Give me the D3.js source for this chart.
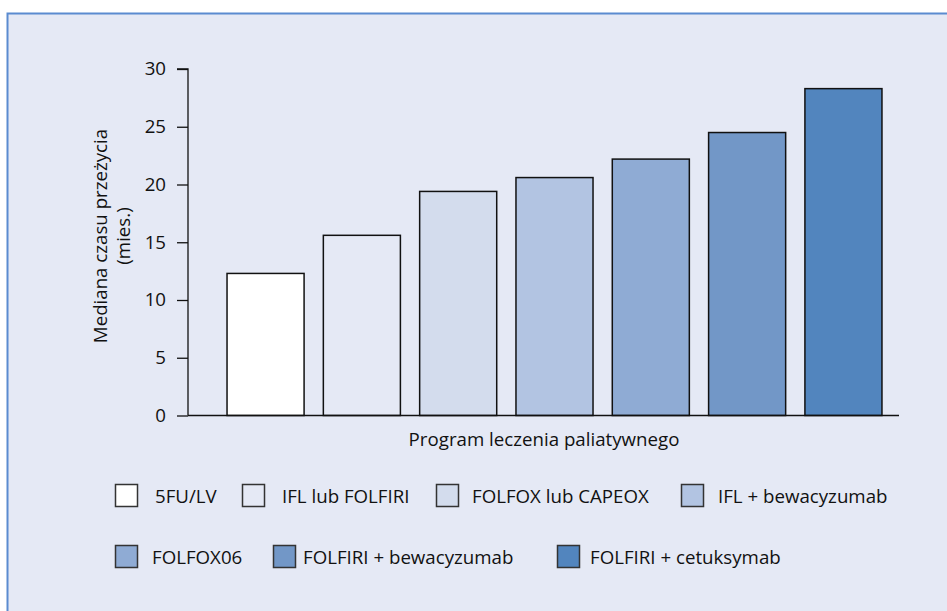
<!DOCTYPE html>
<html>
<head>
<meta charset="utf-8">
<script src="https://cdn.jsdelivr.net/npm/d3@7"></script>
<style>
  html, body { margin: 0; padding: 0; background: #ffffff; }
  svg { display: block; }
  text { font-family: "Open Sans", "Noto Sans", sans-serif; fill: #111; }
</style>
</head>
<body>
<svg id="chart" width="947" height="611"></svg>
<script>
// ---- data ----
const categories = ["5FU/LV", "IFL lub FOLFIRI", "FOLFOX lub CAPEOX", "IFL + bewacyzumab",
                    "FOLFOX06", "FOLFIRI + bewacyzumab", "FOLFIRI + cetuksymab"];
const values = [12.3, 15.6, 19.4, 20.6, 22.2, 24.5, 28.3];
const colors = ["#ffffff", "#e5e9f5", "#d3dced", "#b2c4e2", "#8fabd4", "#7297c7", "#5285be"];
const yTicks = [0, 5, 10, 15, 20, 25, 30];
const yTitle = ["Mediana czasu przeżycia", "(mies.)"];
const xTitle = "Program leczenia paliatywnego";

// ---- layout ----
const W = 947, H = 611;
const FS = 18.7;
const svg = d3.select("#chart");
const bg = "#e5e9f5";

svg.append("rect").attr("x", 7.5).attr("y", 13.5).attr("width", W + 20).attr("height", H + 20)
  .attr("fill", bg).attr("stroke", "#5b8bd0").attr("stroke-width", 2);

const axisX0 = 188, axisX1 = 899;
const y = d3.scaleLinear().domain([0, 30]).range([415.5, 69]);
const x = d3.scaleBand().domain(categories).range([217.4, 891.6]).paddingInner(0.2).paddingOuter(0.1);

// bars
svg.append("g").selectAll("rect").data(categories).join("rect")
  .attr("x", d => x(d)).attr("width", x.bandwidth())
  .attr("y", (d, i) => y(values[i])).attr("height", (d, i) => y(0) - y(values[i]))
  .attr("fill", (d, i) => colors[i]).attr("stroke", "#111").attr("stroke-width", 1.5);

// y axis
const yAxis = d3.axisLeft(y).tickValues(yTicks).tickSize(11).tickPadding(11);
const gy = svg.append("g").attr("transform", `translate(${axisX0},0)`).call(yAxis);
gy.select(".domain").attr("stroke", "#111").attr("stroke-width", 1.3).attr("d", `M-11,${y(30)}H0V${y(0)}`);
gy.selectAll(".tick line").attr("stroke", "#111").attr("stroke-width", 1.3);
gy.selectAll(".tick text").attr("font-size", FS).attr("font-family", '"Open Sans", sans-serif').attr("fill", "#111");

// x axis line
svg.append("line").attr("x1", axisX0).attr("x2", axisX1).attr("y1", y(0)).attr("y2", y(0))
  .attr("stroke", "#111").attr("stroke-width", 1.3);

// y title
const yt = svg.append("text").attr("transform", "translate(107,236) rotate(-90)")
  .attr("text-anchor", "middle").attr("font-size", FS);
yTitle.forEach((t, i) => yt.append("tspan").attr("x", 0).attr("dy", i === 0 ? 0 : 23).text(t));

// x title
svg.append("text").attr("x", 544).attr("y", 446).attr("text-anchor", "middle")
  .attr("font-size", FS).text(xTitle);

// legend
const legendRows = [[0, 1, 2, 3], [4, 5, 6]];
const legendTop = [484, 545];
const legendX = [[115, 242, 436, 681], [115, 273, 557]];
const legendTextGap = [[40, 40, 36, 37], [37, 30, 33]];
legendRows.forEach((row, r) => {
  row.forEach((ci, k) => {
    const g = svg.append("g").attr("transform", `translate(${legendX[r][k]},${legendTop[r]})`);
    g.append("rect").attr("x", 0.5).attr("y", 0.5).attr("width", 22).attr("height", 22)
      .attr("fill", colors[ci]).attr("stroke", "#333").attr("stroke-width", 1.5);
    g.append("text").attr("x", legendTextGap[r][k]).attr("y", 18.5).attr("font-size", FS)
      .text(categories[ci]);
  });
});
</script>
</body>
</html>
